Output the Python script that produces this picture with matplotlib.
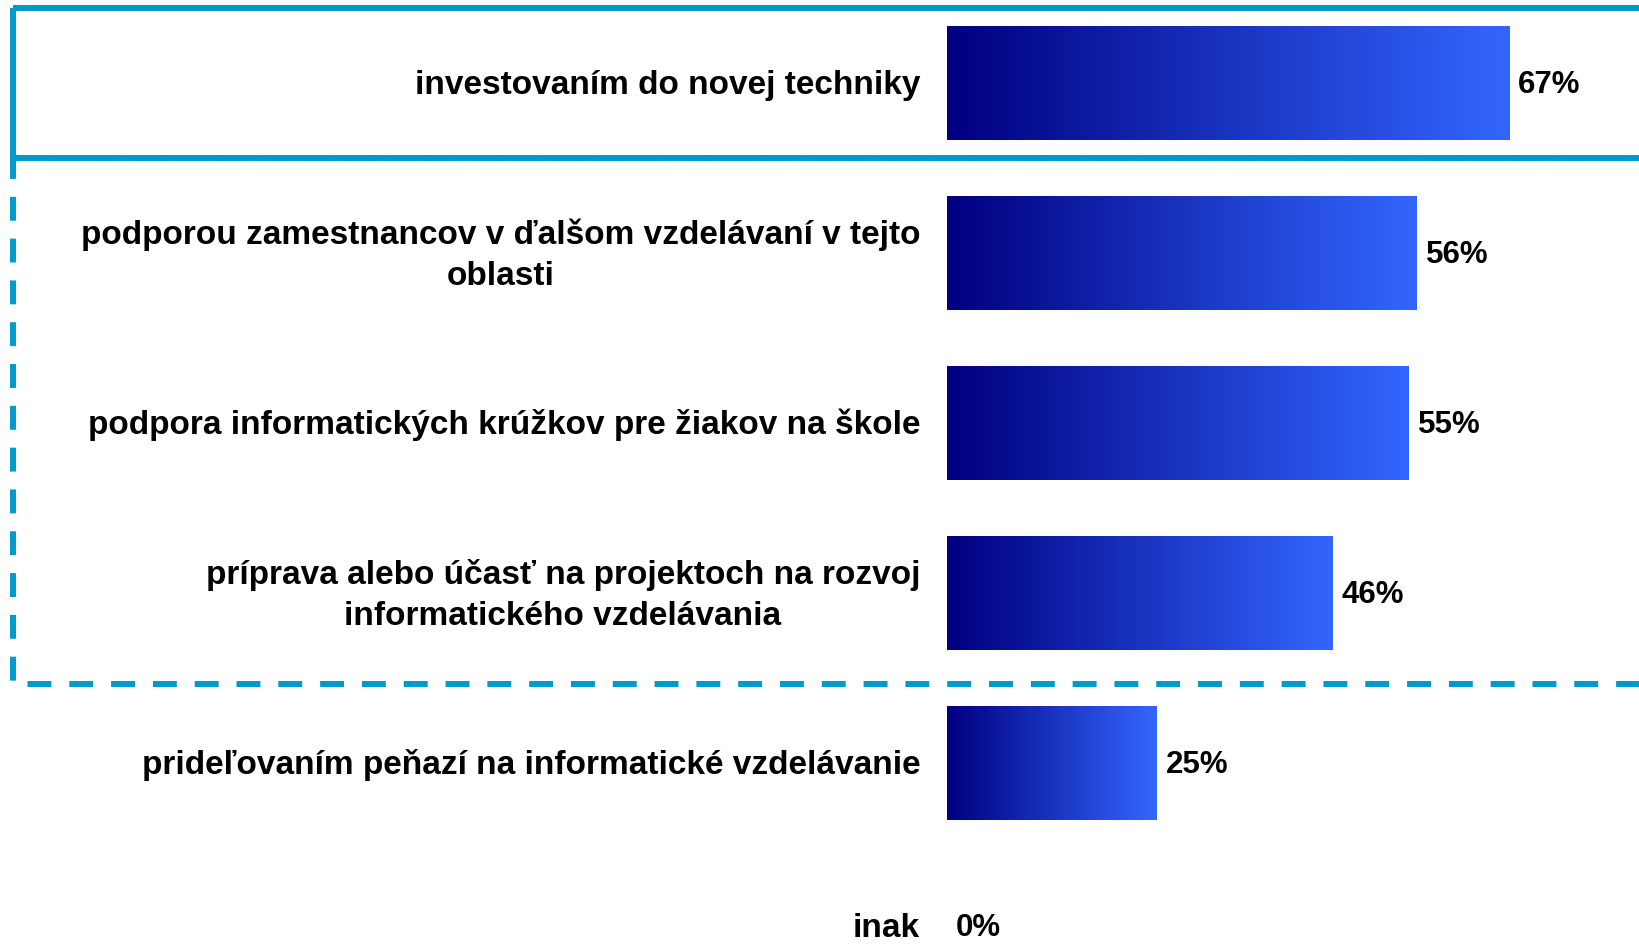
import numpy as np
import matplotlib
matplotlib.use("Agg")
import matplotlib.pyplot as plt
from matplotlib.patches import Rectangle

CATEGORIES = [
    "investovaním do novej techniky",
    "podporou zamestnancov v ďalšom vzdelávaní v tejto\noblasti",
    "podpora informatických krúžkov pre žiakov na škole",
    "príprava alebo účasť na projektoch na rozvoj\ninformatického vzdelávania",
    "prideľovaním peňazí na informatické vzdelávanie",
    "inak",
]
VALUES = [67, 56, 55, 46, 25, 0]

FONT = ["Liberation Sans", "DejaVu Sans"]
BOX_COLOR = "#0099CC"

fig = plt.figure(figsize=(16.4, 9.46), dpi=100)
ax = fig.add_axes([0, 0, 1, 1])
ax.set_xlim(-112.9, 82.6)
ax.set_ylim(5.076, -0.488)
ax.axis("off")

ypos = np.arange(len(CATEGORIES))
bars = ax.barh(ypos, VALUES, height=0.67, color="none", edgecolor="none")

# horizontal gradient, navy -> bright blue, stretched over each bar
grad = np.linspace(0, 1, 256).reshape(1, -1)
cmap = matplotlib.colors.LinearSegmentedColormap.from_list("bluegrad", ["#000080", "#3366FF"])
for bar in bars:
    x0, y0 = bar.get_x(), bar.get_y()
    w, h = bar.get_width(), bar.get_height()
    if w <= 0:
        continue
    im = ax.imshow(grad, cmap=cmap, aspect="auto", extent=(x0, x0 + w, y0 + h, y0),
                   interpolation="bicubic", zorder=2)
    im.set_clip_path(bar)

for i, (y, label, v) in enumerate(zip(ypos, CATEGORIES, VALUES)):
    # last row sits at the very bottom edge; nudge it up so it is not clipped
    dy = 3.5 if i == len(CATEGORIES) - 1 else -1.5
    ax.annotate(label, xy=(0, y), xytext=(-19.4, dy), textcoords="offset points",
                ha="right", va="center", multialignment="center",
                fontsize=24, fontweight="bold", family=FONT, linespacing=1.42)
    ax.annotate(f"{v}%", xy=(v, y), xytext=(6.5, dy), textcoords="offset points",
                ha="left", va="center", fontsize=22.5, fontweight="bold", family=FONT)

# highlight boxes: solid around the top item, dashed around the next three
left = -111.4
ax.add_patch(Rectangle((left, -0.441), 300, 0.882, fill=False, edgecolor=BOX_COLOR,
                       linewidth=4.3, clip_on=False, zorder=3))
ax.add_patch(Rectangle((left, 0.441), 300, 3.094, fill=False, edgecolor=BOX_COLOR,
                       linewidth=4.3, linestyle=(0, (4, 3)), clip_on=False, zorder=3))

fig.savefig("out.png", dpi=100)
